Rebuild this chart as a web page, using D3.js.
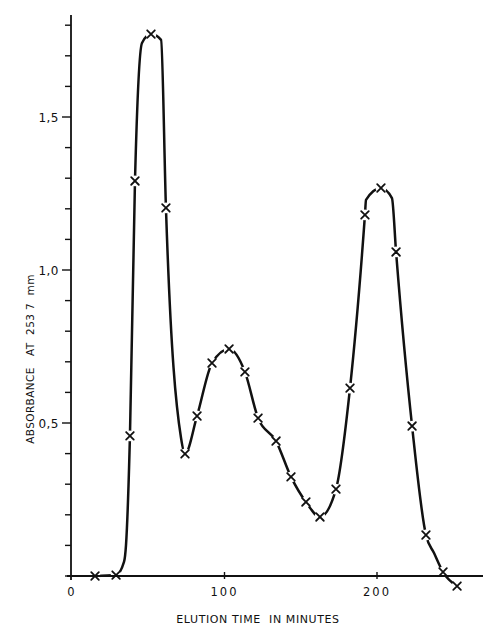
<!DOCTYPE html>
<html>
<head>
<meta charset="utf-8">
<script src="https://cdn.jsdelivr.net/npm/d3@7/dist/d3.min.js"></script>
<style>
  html, body { margin: 0; padding: 0; background: #fff; }
  svg { display: block; }
  text { font-family: "DejaVu Sans", "Liberation Sans", sans-serif; fill: #111; }
</style>
</head>
<body>
<svg id="chart" width="500" height="643"></svg>
<script>
// Measured points (marked with x) : elution time (min) and absorbance
const markerTime = [15.1, 28.9, 38.0, 41.3, 51.8, 61.6, 74.1, 82.0, 91.8, 103.0, 113.4, 122.0, 133.8, 143.6, 153.4, 162.6, 173.1, 182.3, 192.1, 202.6, 212.5, 223.0, 232.1, 243.3, 252.5];
const markerAbs  = [0.000, 0.003, 0.458, 1.291, 1.771, 1.203, 0.399, 0.523, 0.696, 0.742, 0.667, 0.516, 0.441, 0.324, 0.242, 0.193, 0.284, 0.614, 1.180, 1.268, 1.059, 0.490, 0.134, 0.013, -0.033];

// Hand-drawn trace: extra shape points (between markers)
const shapeTime = [34.1, 35.4, 45.9, 58.4, 71.5, 192.8, 209.8, 237.4];
const shapeAbs  = [0.046, 0.100, 1.742, 1.752, 0.451, 1.229, 1.235, 0.075];

// Axis ticks
const yMinorTicks = [0, 0.1, 0.2, 0.3, 0.4, 0.5, 0.6, 0.7, 0.8, 0.9, 1.0, 1.1, 1.2, 1.3, 1.4, 1.5, 1.6, 1.7, 1.8];
const yLabelTicks = [0.5, 1.0, 1.5];
const yTickLabels = ["0,5", "1,0", "1,5"];
const xTicks = [0, 100, 200];
const xTickLabels = ["0", "100", "200"];

const xTitle = "ELUTION TIME  IN MINUTES";
const yTitle = "ABSORBANCE   AT  253 7  mm";

const svg = d3.select("#chart");
const x = d3.scaleLinear().domain([0, 270]).range([72, 72 + 1.525 * 270]);
const y = d3.scaleLinear().domain([0, 1.8]).range([576, 576 - 1.8 * 306]);

// trace data
const trace = markerTime.map((t, i) => ({t, a: markerAbs[i]}))
  .concat(shapeTime.map((t, i) => ({t, a: shapeAbs[i]})))
  .sort((p, q) => p.t - q.t);
const markers = markerTime.map((t, i) => ({t, a: markerAbs[i]}));

const line = d3.line().x(d => x(d.t)).y(d => y(d.a)).curve(d3.curveMonotoneX);

svg.append("path")
  .attr("d", line(trace))
  .attr("fill", "none")
  .attr("stroke", "#111")
  .attr("stroke-width", 2.5)
  .attr("stroke-linejoin", "round")
  .attr("stroke-linecap", "round");

// knock-out gaps around markers
svg.append("g").selectAll("circle").data(markers).join("circle")
  .attr("cx", d => x(d.t)).attr("cy", d => y(d.a)).attr("r", 5.4)
  .attr("fill", "#fff");

// Y axis
const yAxisX = 71;
svg.append("line")
  .attr("x1", yAxisX).attr("x2", yAxisX)
  .attr("y1", y(1.833)).attr("y2", y(-0.013))
  .attr("stroke", "#111").attr("stroke-width", 1.8);
svg.append("g").selectAll("line").data(yMinorTicks).join("line")
  .attr("x1", d => yLabelTicks.includes(d) ? yAxisX - 9 : yAxisX - 6)
  .attr("x2", yAxisX)
  .attr("y1", d => y(d)).attr("y2", d => y(d))
  .attr("stroke", "#111").attr("stroke-width", 1.4);
svg.append("g").selectAll("text").data(yLabelTicks).join("text")
  .attr("x", 59).attr("y", d => y(d) + 4.5)
  .attr("text-anchor", "end")
  .attr("font-size", 12)
  .attr("letter-spacing", 0.5)
  .text((d, i) => yTickLabels[i]);

// X axis
svg.append("line")
  .attr("x1", 67).attr("x2", 483)
  .attr("y1", y(0)).attr("y2", y(0))
  .attr("stroke", "#111").attr("stroke-width", 2);
svg.append("g").selectAll("line").data(xTicks.filter(d => d > 0)).join("line")
  .attr("x1", d => x(d)).attr("x2", d => x(d))
  .attr("y1", y(0) - 4).attr("y2", y(0) + 3)
  .attr("stroke", "#111").attr("stroke-width", 1.4);
svg.append("g").selectAll("text").data(xTicks).join("text")
  .attr("x", d => x(d)).attr("y", 596)
  .attr("text-anchor", "middle")
  .attr("font-size", 11.5)
  .attr("letter-spacing", 2)
  .text((d, i) => xTickLabels[i]);

// markers (x)
const s = 3.8;
const mg = svg.append("g").attr("stroke", "#111").attr("stroke-width", 1.8).attr("stroke-linecap", "round");
mg.selectAll("path").data(markers).join("path")
  .attr("d", d => {
    const cx = x(d.t), cy = y(d.a);
    return `M${cx - s},${cy - s}L${cx + s},${cy + s}M${cx - s},${cy + s}L${cx + s},${cy - s}`;
  });

// titles
svg.append("text")
  .attr("x", 258).attr("y", 623)
  .attr("text-anchor", "middle")
  .attr("font-size", 11)
  .attr("letter-spacing", 0.6)
  .style("white-space", "pre")
  .text(xTitle);
svg.append("text")
  .attr("transform", "translate(34,359) rotate(-90)")
  .attr("text-anchor", "middle")
  .attr("font-size", 10.5)
  .attr("letter-spacing", 0.4)
  .style("white-space", "pre")
  .text(yTitle);
</script>
</body>
</html>
